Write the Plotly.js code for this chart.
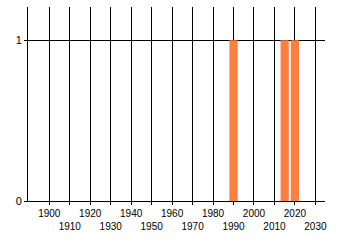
<!DOCTYPE html>
<html>
<head>
<meta charset="utf-8">
<script src="https://cdn.plot.ly/plotly-3.0.1.min.js"></script>
<style>html,body{margin:0;padding:0;background:#fff;}#chart{width:340px;height:245px;}</style>
</head>
<body>
<div id="chart"></div>
<script>
const years = [1990, 2015, 2020];
const counts = [1, 1, 1];
const tickYears = [1900, 1910, 1920, 1930, 1940, 1950, 1960, 1970, 1980, 1990, 2000, 2010, 2020, 2030];
const tickLabels = ["1900", "1910", "1920", "1930", "1940", "1950", "1960", "1970", "1980", "1990", "2000", "2010", "2020", "2030"];
const yTicks = [0, 1];

const staggered = tickLabels.map((t, i) => (i % 2 === 0 ? t : "<br>" + t));

const data = [{
  type: "bar",
  x: years,
  y: counts,
  marker: {color: "#ff7f3f"},
  hoverinfo: "none"
}];

const layout = {
  width: 340,
  height: 245,
  margin: {l: 28, r: 15, t: 7, b: 44, pad: 0},
  paper_bgcolor: "#ffffff",
  plot_bgcolor: "#ffffff",
  showlegend: false,
  bargap: 0.2,
  font: {family: "Liberation Sans, Arial, sans-serif", size: 10, color: "#000"},
  xaxis: {
    range: [1889.6, 2034.7],
    tickmode: "array",
    tickvals: tickYears,
    ticktext: staggered,
    showgrid: true,
    gridcolor: "#000",
    gridwidth: 1,
    showline: true,
    linecolor: "#000",
    linewidth: 1,
    ticks: "outside",
    ticklen: 3,
    tickcolor: "#000",
    zeroline: false,
    tickangle: 0,
    tickfont: {size: 10, color: "#000"}
  },
  yaxis: {
    range: [0, 1.207],
    tickmode: "array",
    tickvals: yTicks,
    ticktext: yTicks.map(String),
    showgrid: true,
    gridcolor: "#000",
    gridwidth: 1,
    showline: true,
    linecolor: "#000",
    linewidth: 1,
    ticks: "outside",
    ticklen: 3,
    tickcolor: "#000",
    zeroline: false,
    tickfont: {size: 11, color: "#000"}
  }
};

Plotly.newPlot("chart", data, layout, {displayModeBar: false, staticPlot: true});
</script>
</body>
</html>
